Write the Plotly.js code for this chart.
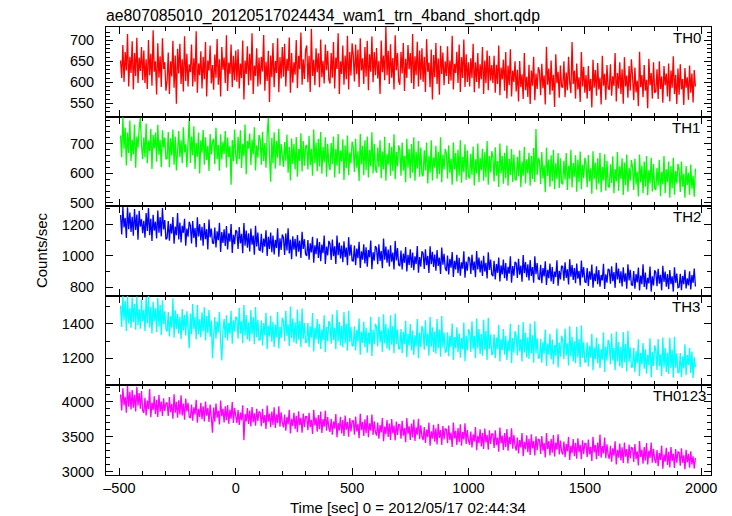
<!DOCTYPE html>
<html><head><meta charset="utf-8">
<script src="https://cdn.plot.ly/plotly-3.0.1.min.js"></script>
<style>html,body{margin:0;padding:0;background:#fff}</style>
</head><body><div id="chart" style="width:732px;height:516px"></div>
<script>
// time axis: first bin and bin width [sec]
const timeStart = -495;
const timeStep = 5;

const th0 = [
652,610,689,601,672,628,715,590,661,622,698,583,670,615,706,598,659,627,684,605,
676,598,655,584,701,617,668,592,724,625,650,571,693,611,662,589,705,632,648,580,
603,671,572,650,614,699,587,664,549,680,621,692,596,655,578,710,603,668,590,643,
624,690,590,657,601,722,575,645,617,674,585,661,607,696,566,652,628,688,597,641,
582,666,611,703,594,655,566,684,630,659,598,712,579,647,620,690,588,663,605,676,
601,679,585,645,610,700,559,652,620,686,593,668,604,717,572,640,615,681,590,659,
595,661,626,713,580,649,603,675,553,664,612,694,588,651,622,705,576,660,609,684,
613,692,590,656,627,707,575,670,599,648,618,701,586,663,631,719,594,655,608,677,
688,600,663,577,728,615,654,593,681,624,669,588,702,612,651,597,690,629,675,606,
597,670,611,696,585,659,632,717,572,650,620,688,594,664,607,711,583,672,616,693,
663,602,690,619,678,589,705,628,657,596,684,613,699,581,667,625,709,600,672,617,
682,609,651,572,700,624,664,605,732,617,675,596,691,611,658,583,712,629,670,603,
594,673,621,694,579,656,610,689,631,670,598,715,584,662,617,697,590,676,606,681,
601,661,577,703,625,647,588,678,559,665,612,694,596,657,570,687,620,671,593,650,
615,686,596,652,604,711,583,644,622,673,598,690,577,660,610,702,589,667,601,648,
590,657,610,692,576,648,601,670,585,643,607,684,572,652,598,676,581,663,604,641,
598,663,575,642,596,688,569,635,607,654,580,672,561,640,593,679,566,628,601,650,
578,630,554,651,588,619,560,670,581,613,565,642,548,628,592,661,557,621,584,636,
627,569,644,586,616,547,685,594,633,570,652,580,618,541,667,598,625,563,640,589,
588,650,564,623,581,661,599,574,696,596,628,561,645,583,612,553,672,590,637,575,
617,561,639,579,608,540,654,587,629,568,646,583,611,547,663,592,620,558,641,586,
582,643,568,614,591,670,554,622,585,648,572,631,549,660,590,616,563,639,580,655,
613,557,635,576,604,543,673,588,617,564,641,580,606,538,656,593,622,561,648,575,
578,631,560,650,584,614,551,639,593,621,566,645,554,628,587,662,572,618,548,633,
570,643,583,608,546,634,587,612,558,640,575,621,552,629,590];

const th1 = [
728,655,790,683,755,627,738,669,779,642,714,664,765,619,725,687,752,788,696,648,
722,655,769,634,711,676,751,615,730,684,738,639,764,663,713,621,746,687,721,649,
650,740,621,719,661,748,629,725,610,704,743,655,712,634,756,671,698,620,728,785,
635,725,661,759,615,703,656,738,600,712,671,747,629,722,645,693,608,733,664,707,
717,631,754,649,697,609,732,647,708,666,743,620,721,655,693,562,713,641,748,661,
631,724,648,746,618,700,658,765,597,709,684,735,628,714,664,756,610,695,653,730,
714,629,741,642,703,619,731,788,658,572,720,634,739,616,709,653,751,626,699,647,
622,706,643,731,602,690,576,718,632,699,613,723,589,682,642,736,606,709,626,691,
696,613,727,628,682,592,748,634,704,607,717,623,740,599,690,637,722,589,700,629,
611,703,632,725,586,682,627,733,599,677,640,715,578,695,618,728,594,671,635,707,
686,605,717,619,675,574,733,630,693,594,712,611,725,586,680,624,739,600,699,616,
602,687,621,712,584,674,613,724,575,666,629,703,592,690,607,732,580,672,623,695,
679,592,704,610,659,570,717,619,682,584,699,602,722,575,672,616,709,589,687,597,
590,678,610,704,566,659,602,712,576,654,619,693,582,672,597,722,570,664,613,683,
668,583,695,602,650,562,704,613,669,573,680,592,712,568,656,604,698,578,677,589,
583,666,595,691,559,648,600,701,570,653,611,683,575,671,587,709,562,659,603,675,
654,573,688,592,642,554,701,600,659,565,670,584,694,558,650,595,682,571,664,581,
576,656,590,678,553,641,592,689,566,648,600,670,558,659,581,686,571,750,595,653,
642,563,672,583,627,536,687,591,647,555,661,573,680,546,634,581,669,551,651,568,
563,643,579,669,544,626,582,680,552,635,589,661,538,646,570,674,546,630,584,653,
632,553,662,573,617,531,675,581,637,545,651,565,670,536,622,576,665,541,643,558,
552,631,568,658,533,615,573,672,541,624,581,651,527,637,560,664,538,619,575,645,
621,544,650,563,606,522,664,570,626,533,640,555,659,526,611,566,653,539,632,549,
544,619,558,646,523,605,563,659,533,614,571,640,518,625,549,653,528,608,566,632,
612,537,640,555,598,518,625,561,603,528,630,548,592,521,616];

const th2 = [
1261,1136,1312,1181,1242,1114,1310,1170,1277,1152,1250,1128,1299,1165,1264,1102,1288,1187,1234,1144,
1223,1116,1273,1158,1305,1132,1236,1094,1262,1161,1218,1111,1290,1148,1247,1124,1306,1169,1228,1105,
1114,1222,1096,1205,1142,1248,1077,1187,1131,1274,1104,1213,1085,1192,1147,1237,1064,1174,1122,1218,
1193,1078,1222,1114,1178,1055,1246,1124,1202,1098,1185,1065,1209,1106,1170,1041,1231,1118,1174,1084,
1077,1181,1053,1157,1099,1211,1024,1152,1082,1170,1062,1190,1040,1144,1091,1203,1018,1134,1074,1163,
1154,1044,1183,1079,1140,1017,1209,1065,1162,1052,1143,1028,1174,1071,1130,1006,1191,1060,1148,1038,
1034,1141,1019,1110,1058,1163,998,1122,1043,1149,1022,1130,1008,1102,1050,1176,994,1112,1037,1136,
1116,1005,1143,1034,1175,1015,1103,978,1124,1039,1109,996,1133,1026,1097,986,1153,1044,1106,1010,
999,1101,975,1080,1021,1122,955,1067,1010,1111,986,1088,965,1071,1016,1130,947,1059,1003,1095,
1077,973,1103,997,1060,948,1130,1004,1084,983,1066,959,1093,991,1053,940,1119,1000,1072,968,
967,1066,940,1046,985,1089,922,1028,975,1074,951,1054,930,1036,990,1098,914,1023,969,1062,
1048,946,1074,967,1031,920,1110,975,1059,955,1040,931,1067,962,1021,912,1095,970,1050,941,
934,1033,913,1014,955,1056,900,1006,942,1041,923,1020,908,996,947,1062,891,992,931,1028,
1017,916,1041,940,999,890,1061,946,1026,929,1007,905,1036,935,988,884,1053,943,1012,921,
902,1001,880,980,924,1024,865,968,912,1006,889,987,872,958,918,1028,859,963,904,993,
981,883,1007,907,963,863,1031,912,989,893,970,871,1000,899,955,855,1023,909,976,880,
870,968,849,947,891,988,836,939,880,976,857,953,841,929,886,996,828,934,872,961,
952,858,980,879,938,834,1004,888,960,863,946,842,973,871,928,828,996,882,954,852,
848,942,825,921,868,964,814,910,857,950,836,928,820,899,864,971,808,904,849,936,
930,841,958,858,913,817,978,866,940,846,922,825,950,854,903,810,969,862,927,833,
829,922,807,901,847,944,796,887,837,933,818,908,802,877,842,949,788,882,828,916,
909,821,933,838,896,795,955,848,918,824,901,803,926,834,888,790,946,842,910,814,
811,902,789,883,829,925,778,874,818,945,800,893,784,859,824,931,771,869,810,907,
893,805,917,822,878,779,936,832,899,802,883,787,909,818,869,771,926,827,886,795,
799,885,780,871,818,911,791,856,810,900,784,877,826,919,804];

const th3 = [
1505,1381,1560,1421,1534,1358,1560,1401,1491,1376,1552,1411,1515,1366,1558,1393,1485,1371,1541,1416,
1481,1358,1555,1401,1560,1379,1499,1344,1528,1416,1489,1352,1549,1385,1510,1334,1536,1398,1472,1369,
1356,1468,1327,1444,1378,1548,1319,1478,1370,1458,1342,1439,1311,1486,1361,1452,1332,1473,1385,1258,
1459,1339,1515,1370,1439,1309,1509,1338,1426,1320,1466,1355,1495,1303,1445,1347,1480,1325,1419,1200,
1327,1439,1313,1414,1350,1468,1295,1188,1361,1427,1318,1449,1303,1406,1342,1475,1284,1420,1356,1441,
1431,1314,1492,1343,1417,1287,1509,1332,1450,1309,1409,1298,1479,1338,1439,1281,1497,1324,1421,1305,
1308,1419,1275,1404,1334,1464,1252,1390,1326,1446,1296,1412,1265,1395,1321,1468,1257,1382,1318,1435,
1414,1299,1475,1329,1396,1272,1500,1316,1430,1292,1408,1284,1483,1308,1417,1265,1488,1313,1404,1289,
1296,1406,1265,1385,1320,1462,1240,1376,1310,1427,1284,1398,1254,1368,1305,1449,1235,1382,1300,1416,
1396,1284,1455,1306,1377,1252,1480,1298,1410,1273,1388,1263,1468,1289,1402,1244,1475,1295,1382,1270,
1275,1385,1246,1363,1299,1430,1221,1355,1289,1411,1264,1377,1233,1350,1283,1440,1214,1365,1281,1400,
1380,1268,1441,1292,1362,1236,1455,1286,1398,1257,1374,1247,1449,1279,1388,1230,1460,1282,1367,1252,
1259,1369,1229,1352,1283,1417,1206,1341,1273,1398,1246,1361,1219,1333,1269,1427,1200,1349,1265,1387,
1361,1249,1420,1270,1343,1215,1440,1267,1379,1236,1355,1227,1427,1259,1367,1209,1445,1263,1350,1233,
1241,1351,1212,1332,1267,1401,1191,1323,1259,1380,1235,1345,1203,1318,1252,1407,1183,1331,1246,1369,
1348,1236,1415,1255,1330,1201,1430,1258,1370,1225,1340,1215,1423,1249,1358,1191,1435,1254,1337,1220,
1229,1339,1200,1320,1256,1394,1181,1311,1247,1370,1221,1331,1191,1303,1242,1400,1173,1317,1232,1357,
1327,1217,1394,1239,1311,1181,1410,1234,1348,1205,1321,1196,1401,1228,1333,1175,1415,1231,1316,1201,
1203,1313,1174,1296,1227,1366,1155,1285,1221,1342,1193,1309,1165,1277,1214,1373,1147,1291,1209,1331,
1306,1194,1372,1215,1287,1159,1385,1210,1325,1181,1298,1172,1383,1205,1311,1149,1390,1202,1292,1176,
1182,1292,1153,1273,1204,1342,1129,1264,1196,1320,1171,1283,1142,1254,1192,1350,1121,1268,1187,1307,
1278,1166,1344,1187,1259,1131,1355,1182,1294,1153,1267,1142,1352,1176,1283,1123,1360,1179,1264,1148,
1150,1260,1120,1241,1172,1310,1097,1232,1164,1288,1139,1252,1110,1220,1160,1316,1089,1238,1155,1275,
1245,1133,1311,1154,1223,1096,1320,1147,1259,1119,1234,1109,1319,1143,1251,1088,1325,1146,1229,1114,
1121,1231,1092,1212,1143,1281,1102,1219,1161,1259,1115,1238,1086,1206,1150];

const th0123 = [
4102,3875,4192,3949,4067,3843,4225,3928,4139,3888,4165,3915,4096,3859,4211,3941,4123,3899,4153,3872,
3840,4054,3804,4014,3891,4180,3776,3987,3880,4078,3819,4027,3782,4099,3857,4000,3796,4048,3868,3974,
3986,3794,4065,3850,3967,3756,4105,3841,3999,3772,4020,3817,4089,3802,3974,3743,4044,3860,3982,3785,
3764,3960,3728,3920,3816,4028,3698,3896,3783,3984,3749,3933,3717,4002,3800,3909,3709,3957,3773,3555,
3915,3713,3974,3771,3870,3673,4017,3792,3899,3702,3932,3736,3950,3683,3886,3755,3993,3694,3907,3779,
3694,3880,3666,3845,3736,3949,3450,3824,3717,3909,3680,3874,3646,3923,3707,3834,3658,3898,3726,3858,
3841,3649,3897,3694,3807,3609,3943,3715,3831,3636,3860,3668,3921,3623,3820,3692,3934,3643,3846,3703,
3631,3816,3586,3781,3677,3883,3546,3754,3653,3842,3605,3797,3565,3861,3666,3768,3555,3829,3640,3789,
3786,3591,3842,3636,3741,3537,3882,3660,3772,3572,3807,3607,3860,3551,3751,3642,3871,3586,3781,3623,
3568,3755,3528,3717,3613,3823,3490,3695,3587,3783,3547,3736,3509,3800,3599,3707,3499,3765,3576,3723,
3726,3529,3786,3575,3681,3479,3825,3594,3711,3511,3748,3550,3804,3492,3690,3586,3814,3524,3719,3566,
3515,3701,3472,3664,3560,3766,3434,3643,3536,3736,3494,3688,3454,3750,3547,3659,3446,3717,3525,3675,
3668,3470,3726,3515,3622,3420,3767,3540,3649,3451,3686,3489,3743,3438,3633,3527,3755,3462,3662,3502,
3451,3637,3410,3600,3494,3701,3371,3576,3472,3670,3429,3618,3390,3682,3482,3594,3381,3653,3461,3611,
3602,3407,3660,3452,3557,3354,3701,3474,3585,3383,3621,3421,3677,3369,3567,3460,3689,3397,3594,3442,
3384,3571,3345,3532,3430,3636,3305,3513,3408,3606,3361,3553,3324,3617,3417,3524,3315,3590,3395,3545,
3532,3337,3590,3380,3487,3286,3631,3404,3515,3311,3551,3351,3607,3299,3497,3391,3620,3327,3523,3372,
3302,3487,3260,3451,3345,3551,3222,3427,3321,3519,3279,3468,3239,3532,3332,3438,3231,3505,3308,3462,
3452,3254,3510,3300,3407,3204,3551,3324,3435,3231,3468,3271,3523,3215,3415,3313,3535,3244,3443,3289,
3245,3430,3206,3393,3289,3496,3166,3369,3264,3464,3222,3411,3185,3477,3277,3382,3177,3449,3253,3405,
3400,3205,3458,3247,3355,3154,3499,3275,3381,3179,3416,3223,3530,3199,3365,3261,3488,3192,3392,3240,
3184,3369,3141,3333,3227,3433,3104,3310,3200,3401,3160,3347,3123,3414,3213,3323,3117,3387,3190,3344,
3334,3138,3393,3180,3289,3089,3436,3209,3316,3114,3351,3158,3407,3103,3300,3196,3417,3129,3327,3174,
3122,3307,3079,3269,3167,3371,3042,3247,3141,3339,3096,3285,3061,3352,3154,3256,3051,3323,3128,3280,
3273,3084,3335,3126,3234,3033,3311,3132,3254,3058,3289,3103,3220,3044,3196];

const panelNames = ["TH0", "TH1", "TH2", "TH3", "TH0123"];
const panelSeries = [th0, th1, th2, th3, th0123];
const xTickVals = [-500, 0, 500, 1000, 1500, 2000];

const colors = ["#ff0000", "#00ff00", "#0000ff", "#00ffff", "#ff00ff"];
const yRanges = [[518, 732], [489, 792], [744, 1317], [1043, 1562], [2952, 4232]];
const yMajor = [50, 100, 200, 200, 500];
const yMinor = [10, 20, 100, 100, 100];
const labelRightPx = [703, 702, 703, 702, 708];

const FONT = "Liberation Sans, Arial, Helvetica, sans-serif";
const L = 106, R = 711.5, T = 27, B = 475, W = 732, H = 516;

const traces = [];
const layout = {
  width: W, height: H,
  margin: {l: L, r: W - R, t: T, b: H - B, pad: 0},
  paper_bgcolor: "#fff", plot_bgcolor: "#fff",
  showlegend: false,
  font: {family: FONT, size: 14.5, color: "#000"},
  title: {text: "ae807085010_20120517024434_wam1_trn_4band_short.qdp",
          x: L / W, xref: "container", xanchor: "left",
          y: 1 - 15 / H, yref: "container", yanchor: "middle",
          font: {family: FONT, size: 15.8, color: "#000"}},
  annotations: []
};

const n = panelSeries.length;
for (let k = 0; k < n; k++) {
  const xs = panelSeries[k].map((_, i) => timeStart + i * timeStep);
  const sfx = k === 0 ? "" : String(k + 1);
  traces.push({
    type: "scatter", mode: "lines", x: xs, y: panelSeries[k],
    xaxis: "x" + sfx, yaxis: "y" + sfx,
    line: {color: colors[k], width: 1.3}, hoverinfo: "skip"
  });
  const top = 1 - k / n, bot = 1 - (k + 1) / n;
  layout["xaxis" + sfx] = {
    domain: [0, 1], anchor: "y" + sfx, range: [-557.5, 2042],
    tickmode: "array", tickvals: xTickVals,
    ticktext: xTickVals.map(v => v < 0 ? "\u2013" + Math.abs(v) : String(v)),
    ticks: "inside", ticklen: 7, tickwidth: 1, tickcolor: "#000",
    minor: {dtick: 100, tick0: 0, ticks: "inside", ticklen: 4, tickwidth: 1, tickcolor: "#000"},
    showline: true, linecolor: "#000", linewidth: 1, mirror: "ticks",
    showgrid: false, zeroline: false,
    showticklabels: k === n - 1, ticklabelstandoff: 0,
    tickfont: {family: FONT, size: 14.5, color: "#000"}
  };
  if (k > 0) layout["xaxis" + sfx].matches = "x";
  layout["yaxis" + sfx] = {
    domain: [bot, top], anchor: "x" + sfx, range: yRanges[k],
    dtick: yMajor[k], tick0: 0,
    ticks: "inside", ticklen: 7, tickwidth: 1, tickcolor: "#000",
    minor: {dtick: yMinor[k], tick0: 0, ticks: "inside", ticklen: 4, tickwidth: 1, tickcolor: "#000"},
    showline: true, linecolor: "#000", linewidth: 1, mirror: "ticks",
    showgrid: false, zeroline: false, ticklabelstandoff: 8,
    tickfont: {family: FONT, size: 14.5, color: "#000"}
  };
  layout.annotations.push({
    text: panelNames[k], showarrow: false,
    xref: "paper", x: (labelRightPx[k] - L) / (R - L), xanchor: "right",
    yref: "y" + sfx + " domain", y: 1, yanchor: "middle", yshift: -10.5,
    font: {family: FONT, size: 15, color: "#000"}
  });
}

layout.annotations.push({
  text: "Counts/sec", showarrow: false, textangle: -90,
  xref: "paper", x: (42 - L) / (R - L), xanchor: "center",
  yref: "paper", y: (B - 250) / (B - T), yanchor: "middle",
  font: {family: FONT, size: 15, color: "#000"}
});
layout.annotations.push({
  text: "Time [sec] 0 = 2012/05/17 02:44:34", showarrow: false,
  xref: "paper", x: (408 - L) / (R - L), xanchor: "center",
  yref: "paper", y: (B - 507) / (B - T), yanchor: "middle",
  font: {family: FONT, size: 15, color: "#000"}
});

Plotly.newPlot("chart", traces, layout, {displayModeBar: false, staticPlot: true});
</script>
</body></html>
